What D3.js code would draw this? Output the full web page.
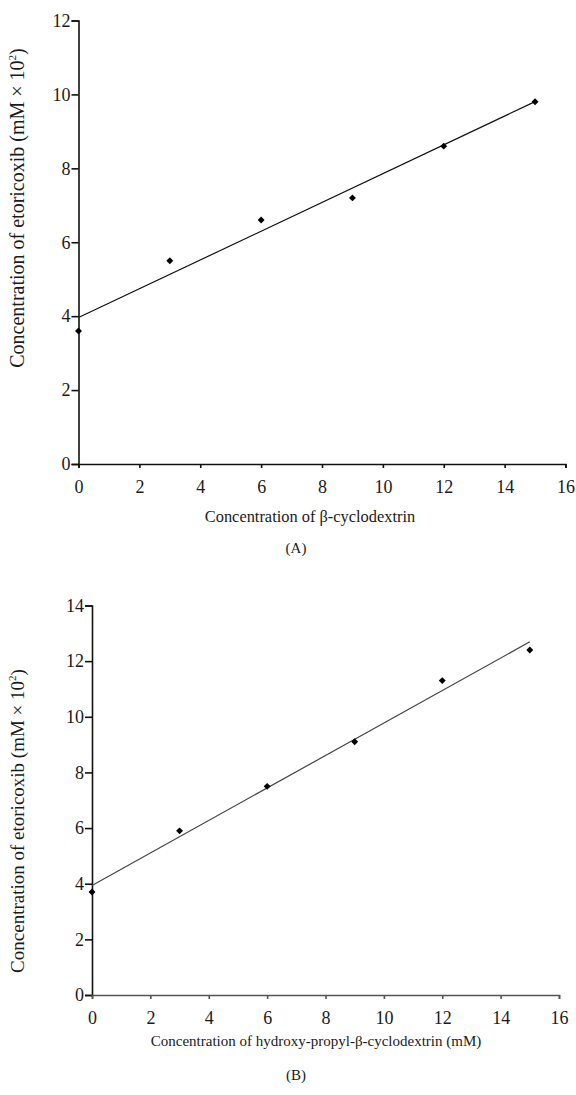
<!DOCTYPE html>
<html>
<head>
<meta charset="utf-8">
<script src="https://cdn.jsdelivr.net/npm/d3@7"></script>
<style>
  body { margin: 0; background: #fff; }
  svg { display: block; }
</style>
</head>
<body>
<div id="chart"></div>
<script>
// Panel A: beta-cyclodextrin
const concA = [0, 3, 6, 9, 12, 15]
const etoA = [3.6, 5.5, 6.6, 7.2, 8.6, 9.8]
// Panel B: hydroxy-propyl-beta-cyclodextrin
const concB = [0, 3, 6, 9, 12, 15]
const etoB = [3.7, 5.9, 7.5, 9.1, 11.3, 12.4]

const xTicks = [0, 2, 4, 6, 8, 10, 12, 14, 16]
const yTicksA = [0, 2, 4, 6, 8, 10, 12]
const yTicksB = [0, 2, 4, 6, 8, 10, 12, 14]

const W = 576, H = 1095
const SERIF = "'Liberation Serif', 'Times New Roman', serif"

const svg = d3.select("#chart").append("svg")
  .attr("width", W).attr("height", H)

svg.append("rect").attr("width", W).attr("height", H).attr("fill", "#fff")

const panels = [
  {
    xs: concA, ys: etoA, yMax: 12, yTicks: yTicksA,
    left: 78.5, right: 565.5, top: 20.5, bottom: 464,
    xTitle: "Concentration of β-cyclodextrin", xTitleX: 310, xTitleY: 522, xTitleSize: 16.4,
    yTitleCenter: 208, yTitleSize: 20, tag: "(A)", tagY: 553,
    xAxisColor: "#111", lineColor: "#111"
  },
  {
    xs: concB, ys: etoB, yMax: 14, yTicks: yTicksB,
    left: 92, right: 559, top: 605.5, bottom: 995,
    xTitle: "Concentration of hydroxy-propyl-β-cyclodextrin (mM)", xTitleX: 316, xTitleY: 1046, xTitleSize: 15,
    yTitleCenter: 821, yTitleSize: 19, tag: "(B)", tagY: 1080,
    xAxisColor: "#555", lineColor: "#444"
  }
]

panels.forEach(p => {
  const x = d3.scaleLinear().domain([0, 16]).range([p.left, p.right])
  const y = d3.scaleLinear().domain([0, p.yMax]).range([p.bottom, p.top])
  const g = svg.append("g")

  // Axes
  const gy = g.append("g")
    .attr("transform", `translate(${p.left},0)`)
    .call(d3.axisLeft(y).tickValues(p.yTicks).tickSize(7).tickPadding(1).tickFormat(d3.format("d")))
  gy.selectAll("path, line").attr("stroke", "#111").attr("stroke-width", 1.6)

  const gx = g.append("g")
    .attr("transform", `translate(0,${p.bottom})`)
    .call(d3.axisBottom(x).tickValues(xTicks).tickSize(4).tickPadding(12).tickFormat(d3.format("d")))
  gx.selectAll("path, line").attr("stroke", p.xAxisColor).attr("stroke-width", 1.6)

  g.selectAll(".tick text")
    .style("font-family", SERIF)
    .style("font-size", "18px")
    .attr("fill", "#1a1a1a")

  // Regression line (least squares from the data)
  const mx = d3.mean(p.xs), my = d3.mean(p.ys)
  const sxy = d3.sum(p.xs, (v, i) => (v - mx) * (p.ys[i] - my))
  const sxx = d3.sum(p.xs, v => (v - mx) ** 2)
  const slope = sxy / sxx
  const icpt = my - slope * mx
  const x0 = d3.min(p.xs), x1 = d3.max(p.xs)

  g.append("line")
    .attr("x1", x(x0)).attr("y1", y(icpt + slope * x0))
    .attr("x2", x(x1)).attr("y2", y(icpt + slope * x1))
    .attr("stroke", p.lineColor)
    .attr("stroke-width", 1.2)

  // Diamond markers
  const sym = d3.symbol().type(d3.symbolSquare).size(24)
  g.selectAll(".pt")
    .data(p.xs.map((v, i) => [v, p.ys[i]]))
    .join("path")
    .attr("class", "pt")
    .attr("d", sym)
    .attr("transform", d => `translate(${x(d[0])},${y(d[1])}) rotate(45)`)
    .attr("fill", "#000")

  // Axis titles
  g.append("text")
    .attr("x", p.xTitleX)
    .attr("y", p.xTitleY)
    .attr("text-anchor", "middle")
    .style("font-family", SERIF)
    .style("font-size", p.xTitleSize + "px")
    .attr("fill", "#1a1a1a")
    .text(p.xTitle)

  const yt = g.append("text")
    .attr("transform", `translate(24,${p.yTitleCenter}) rotate(-90)`)
    .attr("text-anchor", "middle")
    .style("font-family", SERIF)
    .style("font-size", p.yTitleSize + "px")
    .attr("fill", "#1a1a1a")
  yt.append("tspan").text("Concentration of etoricoxib (mM × 10")
  yt.append("tspan").style("font-size", "11px").attr("dy", -8).text("2")
  yt.append("tspan").attr("dy", 8).text(")")

  g.append("text")
    .attr("x", 296)
    .attr("y", p.tagY)
    .attr("text-anchor", "middle")
    .style("font-family", SERIF)
    .style("font-size", "15px")
    .attr("fill", "#1a1a1a")
    .text(p.tag)
})
</script>
</body>
</html>
